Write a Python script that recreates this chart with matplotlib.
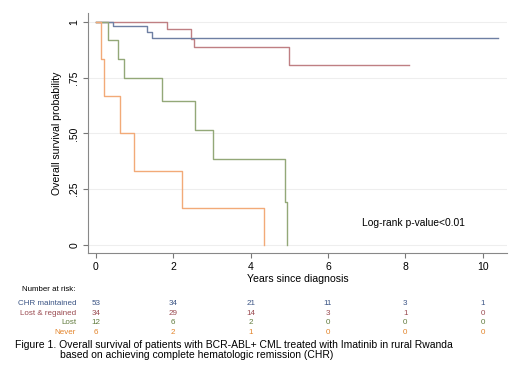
import numpy as np
import matplotlib.pyplot as plt
import matplotlib.transforms as mtransforms

plt.rcParams['font.family'] = ['Liberation Sans', 'DejaVu Sans']

# Kaplan-Meier curves (time in years, survival)
chr_t = [0, 0.43, 1.31, 1.46, 10.4]
chr_s = [1, 0.981, 0.956, 0.929, 0.929]
lr_t = [0, 1.85, 2.47, 2.53, 4.99, 8.1]
lr_s = [1, 0.969, 0.921, 0.888, 0.807, 0.807]
lost_t = [0, 0.32, 0.58, 0.73, 1.71, 2.57, 3.02, 4.89, 4.95]
lost_s = [1, 0.917, 0.833, 0.75, 0.643, 0.514, 0.386, 0.193, 0]
nev_t = [0, 0.13, 0.22, 0.63, 0.98, 2.22, 4.34]
nev_s = [1, 0.833, 0.667, 0.5, 0.333, 0.167, 0]

groups = ["CHR maintained", "Lost & regained", "Lost", "Never"]
risk_times = [0, 2, 4, 6, 8, 10]
risk = [[53, 34, 21, 11, 3, 1],
        [34, 29, 14, 3, 1, 0],
        [12, 6, 2, 0, 0, 0],
        [6, 2, 1, 0, 0, 0]]

yticks = [0, 0.25, 0.5, 0.75, 1]
ylabels = ["0", ".25", ".50", ".75", "1"]

cols = ['#6e7fa3', '#bf7f83', '#93a878', '#f2aa78']
txtcols = ['#3c5585', '#9a4a50', '#607a3c', '#e3842a']

fig = plt.figure(figsize=(5.2, 3.79), dpi=100)
ax = fig.add_axes([0.169, 0.3316, 0.806, 0.634])

# draw order so the top segments overlap like the original
ax.step(lr_t, lr_s, where='post', color=cols[1], lw=1.0)
ax.step(chr_t, chr_s, where='post', color=cols[0], lw=1.0)
ax.step(lost_t, lost_s, where='post', color=cols[2], lw=1.0)
ax.step(nev_t, nev_s, where='post', color=cols[3], lw=1.0)

ax.set_xlim(-0.207, 10.63)
ax.set_ylim(-0.037, 1.039)
ax.set_xticks(risk_times)
ax.set_yticks(yticks)
ax.set_yticklabels(ylabels, rotation=90, va='center')
ax.tick_params(labelsize=7.5, color='#777777', length=3.6, width=0.8)
ax.tick_params(axis='x', pad=2.3)
ax.tick_params(axis='y', pad=2.5)
ax.grid(axis='y', color='#eeeeee', lw=0.8)
ax.set_axisbelow(True)
for s in ['top', 'right']:
    ax.spines[s].set_visible(False)
for s in ['left', 'bottom']:
    ax.spines[s].set_color('#888888')
    ax.spines[s].set_linewidth(0.8)

ax.set_ylabel("Overall survival probability", fontsize=7.6, labelpad=5)
ax.set_xlabel("Years since diagnosis", fontsize=7.6, labelpad=1.5)
ax.text(6.87, 0.1, "Log-rank p-value<0.01", fontsize=7.4, va='center')

# number at risk table
trans = mtransforms.blended_transform_factory(ax.transData, fig.transFigure)
fig.text(76 / 520, 1 - 289.5 / 379, "Number at risk:", fontsize=5.7, ha='right', va='center')
rows_y = [303.3, 313.3, 323, 332.3]
for i, g in enumerate(groups):
    yy = 1 - rows_y[i] / 379
    fig.text(76 / 520, yy, g, fontsize=5.8, ha='right', va='center', color=txtcols[i])
    for t, n in zip(risk_times, risk[i]):
        fig.text(t, yy, str(n), transform=trans, fontsize=5.8, ha='center',
                 va='center', color=txtcols[i])

fig.text(15 / 520, 1 - 345.5 / 379,
         "Figure 1. Overall survival of patients with BCR-ABL+ CML treated with Imatinib in rural Rwanda",
         fontsize=7.5, va='center')
fig.text(60 / 520, 1 - 354.5 / 379,
         "based on achieving complete hematologic remission (CHR)",
         fontsize=7.5, va='center')

fig.savefig("out.png", dpi=100)
